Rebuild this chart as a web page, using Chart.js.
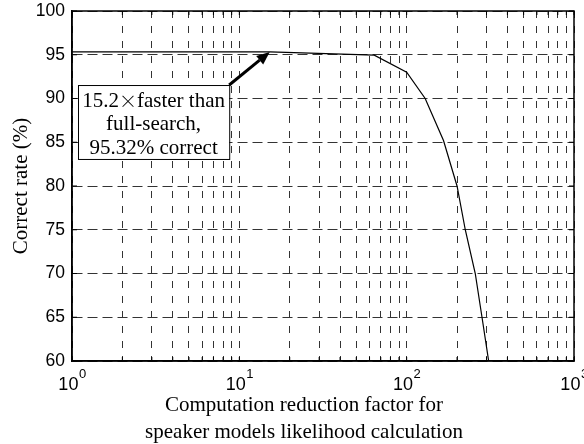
<!DOCTYPE html>
<html>
<head>
<meta charset="utf-8">
<script src="https://cdn.jsdelivr.net/npm/chart.js@4.4.0/dist/chart.umd.min.js"></script>
<style>
  html, body { margin: 0; padding: 0; background: #fff; }
  canvas { display: block; }
</style>
</head>
<body>
<canvas id="grafico" width="584" height="444"></canvas>
<script>
// fator de redução (eixo x, logarítmico) e taxa de acerto (%)
const reduction = [1, 15.2, 64, 100, 129, 166, 200, 224, 257, 282, 309];
const correctRate = [95.32, 95.32, 94.95, 93.0, 90.0, 85.2, 80.0, 75.0, 70.0, 65.0, 60.0];

// marcas dos eixos
const xTicks = [1, 2, 3, 4, 5, 6, 7, 8, 9, 10, 20, 30, 40, 50, 60, 70, 80, 90,
  100, 200, 300, 400, 500, 600, 700, 800, 900, 1000];
const xDecades = [1, 10, 100, 1000];
const xExponents = ['0', '1', '2', '3'];
const yTicks = [60, 65, 70, 75, 80, 85, 90, 95, 100];

// texto da anotação
const noteLines = [['15.2', '×', 'faster than'], ['full-search,'], ['95.32% correct']];
const notePoint = { x: 15.2, y: 95.32 };

const serif = '"Liberation Serif", "Times New Roman", serif';
const sans = '"Liberation Sans", Arial, sans-serif';
const cjk = '"Noto Sans CJK JP", "Noto Sans CJK SC", sans-serif';

function line(ctx, x1, y1, x2, y2) {
  ctx.beginPath();
  ctx.moveTo(x1, y1);
  ctx.lineTo(x2, y2);
  ctx.stroke();
}

// moldura, marcas internas, rótulos 10^n, caixa com seta e título do eixo x
const extras = {
  id: 'extras',
  afterDatasetsDraw(chart) {
    const { ctx, chartArea: a, scales: { x, y } } = chart;
    ctx.save();
    ctx.strokeStyle = '#000';
    ctx.lineWidth = 1;
    yTicks.forEach(v => {
      const py = y.getPixelForValue(v);
      line(ctx, a.left, py, a.left + 5, py);
      line(ctx, a.right - 5, py, a.right, py);
    });
    xTicks.forEach(v => {
      const px = x.getPixelForValue(v);
      line(ctx, px, a.bottom, px, a.bottom - 4);
      line(ctx, px, a.top, px, a.top + 4);
    });
    ctx.lineWidth = 1.5;
    ctx.strokeRect(a.left, a.top, a.right - a.left, a.bottom - a.top);

    // rótulos 10^n do eixo x
    ctx.fillStyle = '#000';
    ctx.textAlign = 'left';
    ctx.textBaseline = 'alphabetic';
    xDecades.forEach((v, i) => {
      const px = x.getPixelForValue(v);
      ctx.font = '18px ' + sans;
      const w1 = ctx.measureText('10').width;
      ctx.font = '13px ' + sans;
      const w2 = ctx.measureText(xExponents[i]).width;
      const x0 = px - (w1 + w2) / 2;
      ctx.font = '18px ' + sans;
      ctx.fillText('10', x0, a.bottom + 29);
      ctx.font = '13px ' + sans;
      ctx.fillText(xExponents[i], x0 + w1 + 0.5, a.bottom + 17);
    });

    // caixa da anotação
    const bx1 = x.getPixelForValue(1.086), bx2 = x.getPixelForValue(8.7);
    const by1 = y.getPixelForValue(91.54), by2 = y.getPixelForValue(83.09);
    ctx.fillStyle = '#fff';
    ctx.fillRect(bx1, by1, bx2 - bx1, by2 - by1);
    ctx.lineWidth = 1;
    ctx.strokeRect(bx1 + 0.5, by1 + 0.5, bx2 - bx1, by2 - by1);
    ctx.fillStyle = '#000';
    ctx.textBaseline = 'middle';
    const cx = (bx1 + bx2) / 2;
    noteLines.forEach((parts, i) => {
      const fonts = parts.map(p => (p === '×' ? '300 18px ' + cjk : '21px ' + serif));
      const widths = parts.map((p, j) => { ctx.font = fonts[j]; return ctx.measureText(p).width; });
      let px = cx - widths.reduce((s, w) => s + w, 0) / 2;
      const py = by1 + 16 + i * 23.5;
      parts.forEach((p, j) => {
        ctx.font = fonts[j];
        ctx.fillText(p, px, py);
        px += widths[j];
      });
    });

    // seta
    const tx = x.getPixelForValue(notePoint.x), ty = y.getPixelForValue(notePoint.y);
    const ang = Math.atan2(ty - by1, tx - bx2);
    const hl = 13, hw = 5.5;
    const bxh = tx - hl * Math.cos(ang), byh = ty - hl * Math.sin(ang);
    ctx.lineWidth = 3;
    line(ctx, bx2, by1, bxh, byh);
    ctx.beginPath();
    ctx.moveTo(tx, ty);
    ctx.lineTo(bxh + hw * Math.sin(ang), byh - hw * Math.cos(ang));
    ctx.lineTo(bxh - hw * Math.sin(ang), byh + hw * Math.cos(ang));
    ctx.closePath();
    ctx.fill();

    // título do eixo x
    ctx.font = '21px ' + serif;
    ctx.textAlign = 'center';
    ctx.fillText('Computation reduction factor for', 304, 405);
    ctx.fillText('speaker models likelihood calculation', 304, 432);
    ctx.restore();
  }
};

const ctx = document.getElementById('grafico').getContext('2d');
new Chart(ctx, {
  type: 'line',
  data: {
    datasets: [{
      data: reduction.map((v, i) => ({ x: v, y: correctRate[i] })),
      borderColor: '#000',
      borderWidth: 1.2,
      pointRadius: 0,
      tension: 0,
      fill: false
    }]
  },
  options: {
    responsive: false,
    animation: false,
    layout: { padding: { top: 11, right: 10, left: 0, bottom: 0 } },
    plugins: { legend: { display: false }, tooltip: { enabled: false } },
    scales: {
      x: {
        type: 'logarithmic',
        min: 1,
        max: 1000,
        afterBuildTicks: s => { s.ticks = xTicks.map(v => ({ value: v })); },
        afterFit: s => { s.height = 83; s.paddingLeft = 0; s.paddingRight = 0; },
        ticks: { display: false, autoSkip: false },
        grid: { color: '#333', lineWidth: 1, drawTicks: false },
        border: { color: '#000', width: 1.5, dash: [7, 8] }
      },
      y: {
        min: 60,
        max: 100,
        afterBuildTicks: s => { s.ticks = yTicks.map(v => ({ value: v })); },
        afterFit: s => { s.width = 72; s.paddingTop = 0; s.paddingBottom = 0; },
        ticks: {
          padding: 7,
          color: '#000',
          font: { family: sans, size: 17.5 }
        },
        grid: { color: '#333', lineWidth: 1, drawTicks: false },
        border: { color: '#000', width: 1.5, dash: [10, 5] },
        title: {
          display: true,
          text: 'Correct rate (%)',
          color: '#000',
          font: { family: serif, size: 21 },
          padding: { top: 9, bottom: 0 }
        }
      }
    }
  },
  plugins: [extras]
});
</script>
</body>
</html>
